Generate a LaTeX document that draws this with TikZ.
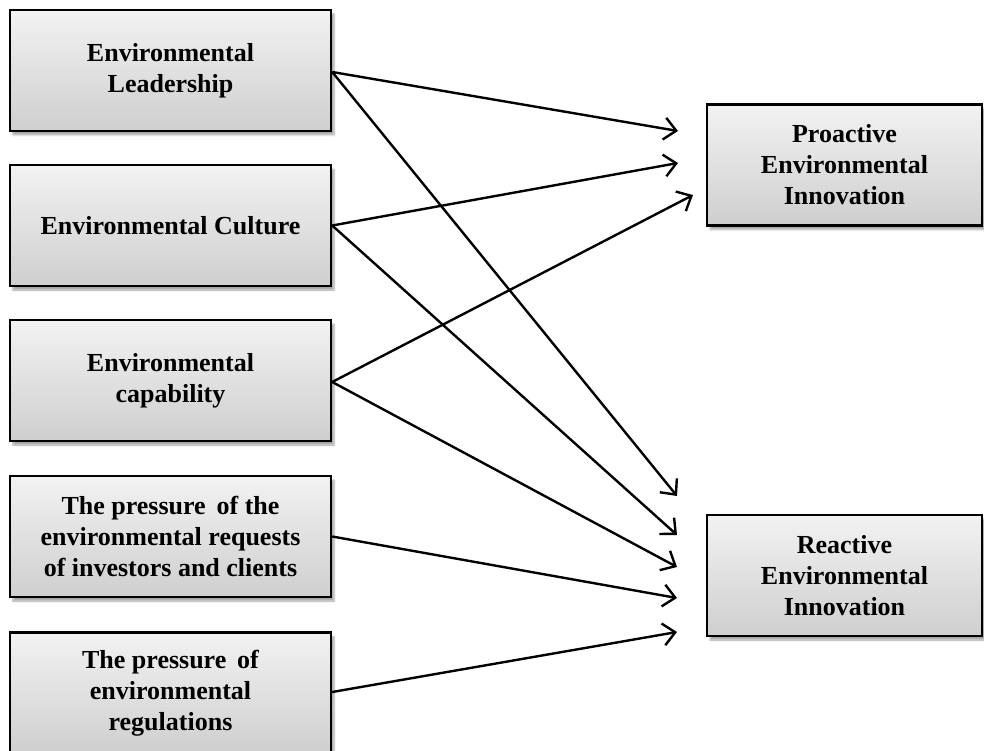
\documentclass[tikz,border=0pt]{standalone}
\usepackage{fontspec}
\setmainfont{Liberation Serif}
\usetikzlibrary{arrows.meta,shadows.blur}
\begin{document}
\begin{tikzpicture}[x=1pt,y=-1pt,
  factor/.style={draw=black, line width=2.4pt, rectangle,
    top color=gray!10, bottom color=gray!38,
    blur shadow={shadow xshift=3pt, shadow yshift=-4pt, shadow blur steps=6, shadow opacity=35},
    align=center, inner sep=0pt,
    font=\fontsize{26}{31}\selectfont\bfseries},
  leftbox/.style={factor, minimum width=321pt, minimum height=121pt},
  rightbox/.style={factor, minimum width=275pt, minimum height=121pt},
  link/.style={draw=black, line width=2.4pt,
    -{Straight Barb[length=12pt,width=22pt,line width=2.4pt]}}
]
\useasboundingbox (0,0) rectangle (984,751);
\begin{scope}
\clip (0,0) rectangle (984,751);

% determinants on the left
\node[leftbox] (lead) at (170.5,70.5) {Environmental\\Leadership};
\node[leftbox] (cult) at (170.5,225.5) {Environmental Culture};
\node[leftbox] (capa) at (170.5,380.5) {Environmental\\capability};
\node[leftbox] (inve) at (170.5,536.5) {The pressure \,of the\\environmental requests\\of investors and clients};
\node[leftbox] (regu) at (170.5,693) {The pressure \,of\\environmental\\regulations};

% outcomes on the right
\node[rightbox] (proa) at (844.5,165) {Proactive\\Environmental\\Innovation};
\node[rightbox] (reac) at (844.5,575.5) {Reactive\\Environmental\\Innovation};

% arrow tips in front of the outcome boxes
\coordinate (p1) at (678,131);
\coordinate (p2) at (678,163);
\coordinate (p3) at (693,195);
\coordinate (r1) at (677,496);
\coordinate (r2) at (677,535);
\coordinate (r3) at (677,567);
\coordinate (r4) at (677,598);
\coordinate (r5) at (677,632);

\draw[link] (lead.east |- 0,72) -- (p1);
\draw[link] (lead.east |- 0,72) -- (r1);
\draw[link] (cult.east) -- (p2);
\draw[link] (cult.east) -- (r2);
\draw[link] (capa.east |- 0,382) -- (p3);
\draw[link] (capa.east |- 0,382) -- (r3);
\draw[link] (inve.east) -- (r4);
\draw[link] (regu.east |- 0,692) -- (r5);
\end{scope}
\end{tikzpicture}
\end{document}
